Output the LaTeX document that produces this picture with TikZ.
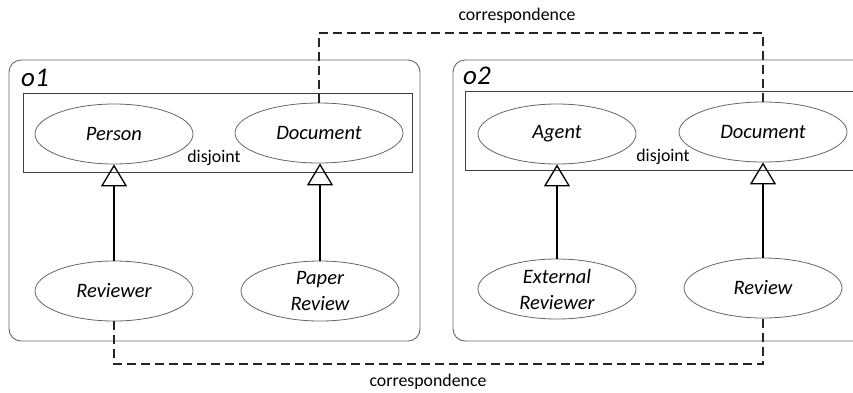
\documentclass[tikz,border=0pt]{standalone}
\usepackage{fontspec}
\setmainfont{Carlito}
\usetikzlibrary{arrows.meta,shapes.geometric}
\begin{document}
\begin{tikzpicture}[x=1pt,y=-1pt,
  cls/.style={ellipse,draw=black!60,line width=0.8pt,minimum width=158pt,minimum height=60pt,inner sep=0pt,align=center,font=\fontsize{20.5}{26}\selectfont\itshape},
  wide/.style={minimum width=168pt},
  ontobox/.style={draw=black!60,line width=0.9pt,rounded corners=12pt},
  groupbox/.style={draw=black!75,line width=0.9pt},
  plain/.style={font=\fontsize{17.8}{20}\selectfont,inner sep=0pt},
  olabel/.style={font=\fontsize{27}{30}\selectfont\itshape,inner sep=0pt,anchor=base west},
  isa/.style={-{Triangle[open,length=22pt,width=26pt]},line width=1.3pt,black},
  corr/.style={dashed,dash pattern=on 9pt off 5pt,line width=1.2pt,black!85}]
\clip (0,0) rectangle (853,392);
\useasboundingbox (0,0) rectangle (853,392);
\fill[white] (0,0) rectangle (853,392);
% ontology boxes
\draw[ontobox] (9,60) rectangle (420,341);
\draw[ontobox] (453,60) rectangle (900,341);
\draw[groupbox] (23,93) rectangle (412,172);
\draw[groupbox] (465,91) rectangle (880,170);
\node[olabel] (o1) at (21,86) {o1};
\node[olabel] (o2) at (463,84) {o2};
% classes
\node[cls] (person) at (114,134) {Person};
\node[cls,wide] (doc1) at (319,133) {Document};
\node[cls] (reviewer) at (114,291) {Reviewer};
\node[cls] (paper) at (320,291) {Paper\\Review};
\node[cls] (agent) at (557,134) {Agent};
\node[cls,wide] (doc2) at (763,132) {Document};
\node[cls] (ext) at (557,289) {External\\Reviewer};
\node[cls] (review) at (763,288) {Review};
\node[plain] (dj1) at (214,158) {disjoint};
\node[plain] (dj2) at (663,157) {disjoint};
% subclass arrows
\draw[isa] (reviewer) -- (person);
\draw[isa] (paper.north) -- (paper.north |- doc1.south);
\draw[isa] (ext) -- (agent);
\draw[isa] (review) -- (doc2);
% correspondences
\coordinate (topy) at (0,33);
\coordinate (boty) at (0,364);
\draw[corr] (doc1.north) -- (doc1.north |- topy) -- (doc2.north |- topy) -- (doc2.north);
\draw[corr] (reviewer.south) -- (reviewer.south |- boty) -- (review.south |- boty) -- (review.south);
\node[plain] (c1) at (517,16) {correspondence};
\node[plain] (c2) at (428,382) {correspondence};
\end{tikzpicture}
\end{document}
